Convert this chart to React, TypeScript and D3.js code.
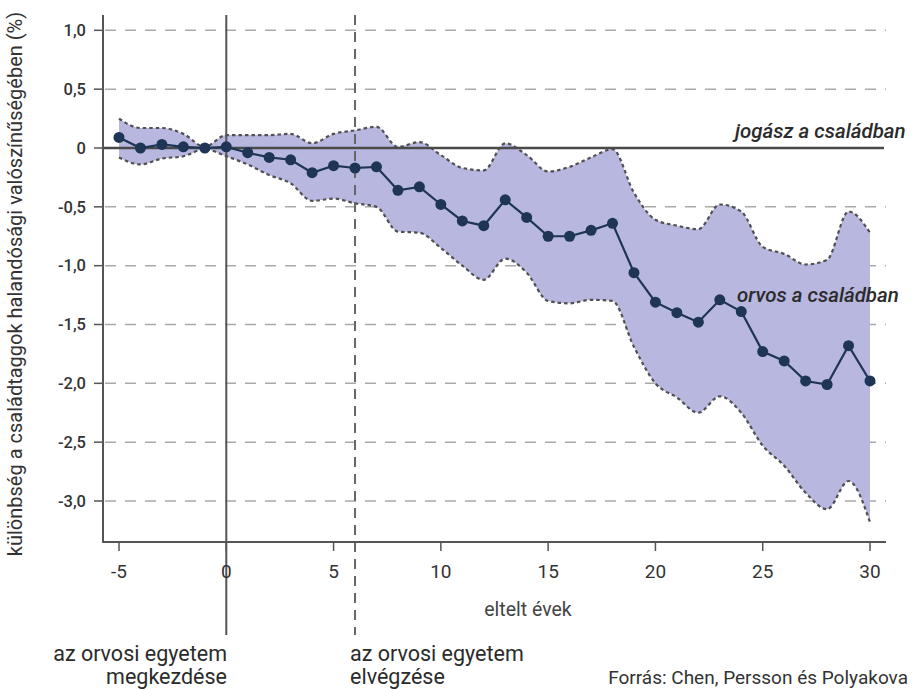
import React, { useEffect, useRef } from 'react';
import * as d3 from 'd3';

// years since start of medical school
const years = [-5, -4, -3, -2, -1, 0, 1, 2, 3, 4, 5, 6, 7, 8, 9, 10, 11, 12, 13, 14, 15, 16, 17, 18, 19, 20, 21, 22, 23, 24, 25, 26, 27, 28, 29, 30];

// point estimate (%)
const estimate = [0.09, 0, 0.03, 0.01, 0, 0.01, -0.04, -0.08, -0.1, -0.21, -0.15, -0.17, -0.16, -0.36, -0.33, -0.48, -0.62, -0.66, -0.44, -0.59, -0.75, -0.75, -0.7, -0.64, -1.06, -1.31, -1.4, -1.48, -1.29, -1.39, -1.73, -1.81, -1.98, -2.01, -1.68, -1.98];

// confidence band
const upper = [0.25, 0.17, 0.17, 0.12, 0.01, 0.11, 0.11, 0.11, 0.12, 0.04, 0.12, 0.15, 0.18, 0.01, 0.05, -0.06, -0.17, -0.19, 0.04, -0.06, -0.2, -0.16, -0.08, -0.01, -0.38, -0.61, -0.66, -0.69, -0.48, -0.54, -0.84, -0.9, -0.99, -0.95, -0.54, -0.72];
const lower = [-0.08, -0.14, -0.09, -0.07, -0.01, -0.07, -0.14, -0.23, -0.3, -0.45, -0.43, -0.47, -0.5, -0.71, -0.72, -0.85, -1.0, -1.12, -0.94, -1.06, -1.3, -1.32, -1.29, -1.3, -1.69, -2.0, -2.12, -2.25, -2.11, -2.25, -2.53, -2.7, -2.93, -3.07, -2.83, -3.18];

const yTicks = [1, 0.5, 0, -0.5, -1, -1.5, -2, -2.5, -3];
const yTickLabels = ['1,0', '0,5', '0', '-0,5', '-1,0', '-1,5', '-2,0', '-2,5', '-3,0'];
const xTicks = [-5, 0, 5, 10, 15, 20, 25, 30];

const FONT = 'Roboto, "Noto Sans", sans-serif';

const App: React.FC = () => {
  const svgRef = useRef<SVGSVGElement>(null);

  useEffect(() => {
    if (!svgRef.current) return;
    const svg = d3.select(svgRef.current);
    svg.selectAll('*').remove();

    const left = 103;
    const right = 886;
    const top = 15;
    const bottom = 542;

    const x = d3.scaleLinear().domain([-5, 30]).range([119, 870]);
    const y = d3.scaleLinear().domain([0, -3]).range([148, 501]);

    const rows = years.map((yr, i) => ({ yr, est: estimate[i], hi: upper[i], lo: lower[i] }));

    // gridlines
    svg.append('g')
      .selectAll('line')
      .data(yTicks.filter(t => t !== 0))
      .enter().append('line')
      .attr('x1', left + 2)
      .attr('x2', right)
      .attr('y1', d => y(d))
      .attr('y2', d => y(d))
      .attr('stroke', '#a9a9a9')
      .attr('stroke-width', 1.5)
      .attr('stroke-dasharray', '11,9');

    // band
    const area = d3.area<typeof rows[0]>()
      .x(d => x(d.yr))
      .y0(d => y(d.lo))
      .y1(d => y(d.hi))
      .curve(d3.curveMonotoneX);

    svg.append('path')
      .datum(rows)
      .attr('d', area)
      .attr('fill', '#b7b7e0');

    const edge = (key: 'hi' | 'lo') => d3.line<typeof rows[0]>()
      .x(d => x(d.yr))
      .y(d => y(d[key]))
      .curve(d3.curveMonotoneX);

    (['hi', 'lo'] as const).forEach(k => {
      svg.append('path')
        .datum(rows)
        .attr('d', edge(k))
        .attr('fill', 'none')
        .attr('stroke', '#505050')
        .attr('stroke-width', 2.2)
        .attr('stroke-dasharray', '3.5,3');
    });

    // zero reference line
    svg.append('line')
      .attr('x1', left)
      .attr('x2', 884)
      .attr('y1', y(0))
      .attr('y2', y(0))
      .attr('stroke', '#4a4a4a')
      .attr('stroke-width', 2.5);

    // event lines
    svg.append('line')
      .attr('x1', x(0)).attr('x2', x(0))
      .attr('y1', top).attr('y2', 635)
      .attr('stroke', '#555')
      .attr('stroke-width', 2);

    svg.append('line')
      .attr('x1', x(6)).attr('x2', x(6))
      .attr('y1', top).attr('y2', 635)
      .attr('stroke', '#666')
      .attr('stroke-width', 2)
      .attr('stroke-dasharray', '10,7');

    // estimate line + points
    const line = d3.line<typeof rows[0]>()
      .x(d => x(d.yr))
      .y(d => y(d.est));

    svg.append('path')
      .datum(rows)
      .attr('d', line)
      .attr('fill', 'none')
      .attr('stroke', '#1e3556')
      .attr('stroke-width', 2.2);

    svg.append('g')
      .selectAll('circle')
      .data(rows)
      .enter().append('circle')
      .attr('cx', d => x(d.yr))
      .attr('cy', d => y(d.est))
      .attr('r', 5.5)
      .attr('fill', '#1e3556');

    // axes
    svg.append('path')
      .attr('d', `M${left},${top}V${bottom}H${right}`)
      .attr('fill', 'none')
      .attr('stroke', '#555')
      .attr('stroke-width', 2);

    const yAxis = svg.append('g');
    yTicks.forEach((t, i) => {
      yAxis.append('line')
        .attr('x1', 94).attr('x2', left)
        .attr('y1', y(t)).attr('y2', y(t))
        .attr('stroke', '#555')
        .attr('stroke-width', 1.5);
      yAxis.append('text')
        .attr('x', 86)
        .attr('y', y(t))
        .attr('dy', '0.35em')
        .attr('text-anchor', 'end')
        .style('font-family', FONT)
        .style('font-size', '16.5px')
        .style('font-weight', 500)
        .style('fill', '#333')
        .text(yTickLabels[i]);
    });

    const xAxis = svg.append('g');
    xTicks.forEach(t => {
      xAxis.append('line')
        .attr('x1', x(t)).attr('x2', x(t))
        .attr('y1', bottom).attr('y2', 551)
        .attr('stroke', '#555')
        .attr('stroke-width', 1.5);
      xAxis.append('text')
        .attr('x', x(t))
        .attr('y', 578)
        .attr('text-anchor', 'middle')
        .style('font-family', FONT)
        .style('font-size', '19px')
        .style('fill', '#333')
        .text(String(t));
    });

    // labels
    svg.append('text')
      .attr('transform', 'translate(22,284) rotate(-90)')
      .attr('text-anchor', 'middle')
      .style('font-family', FONT)
      .style('font-size', '20px')
      .style('fill', '#333')
      .text('különbség a családtaggok halandósági valószínűségében (%)');

    svg.append('text')
      .attr('x', 528).attr('y', 616)
      .attr('text-anchor', 'middle')
      .style('font-family', FONT)
      .style('font-size', '19.5px')
      .style('fill', '#444')
      .text('eltelt évek');

    const italic = (txt: string, tx: number, ty: number) =>
      svg.append('text')
        .attr('x', tx).attr('y', ty)
        .style('font-family', FONT)
        .style('font-size', '20.5px')
        .style('font-style', 'italic')
        .style('font-weight', 500)
        .style('fill', '#2b2b2b')
        .text(txt);

    italic('jogász a családban', 735, 138);
    italic('orvos a családban', 737, 302);

    const note = (txt: string, tx: number, ty: number, anchor: string) =>
      svg.append('text')
        .attr('x', tx).attr('y', ty)
        .attr('text-anchor', anchor)
        .style('font-family', FONT)
        .style('font-size', '21.5px')
        .style('fill', '#2b2b2b')
        .text(txt);

    note('az orvosi egyetem', 227, 661, 'end');
    note('megkezdése', 227, 684, 'end');
    note('az orvosi egyetem', 350, 661, 'start');
    note('elvégzése', 350, 684, 'start');

    svg.append('text')
      .attr('x', 908).attr('y', 684)
      .attr('text-anchor', 'end')
      .style('font-family', FONT)
      .style('font-size', '19px')
      .style('fill', '#333')
      .text('Forrás: Chen, Persson és Polyakova');
  }, []);

  return (
    <svg
      ref={svgRef}
      width={912}
      height={689}
      style={{ position: 'absolute', left: 0, top: 0, background: '#fff' }}
    />
  );
};

export default App;
